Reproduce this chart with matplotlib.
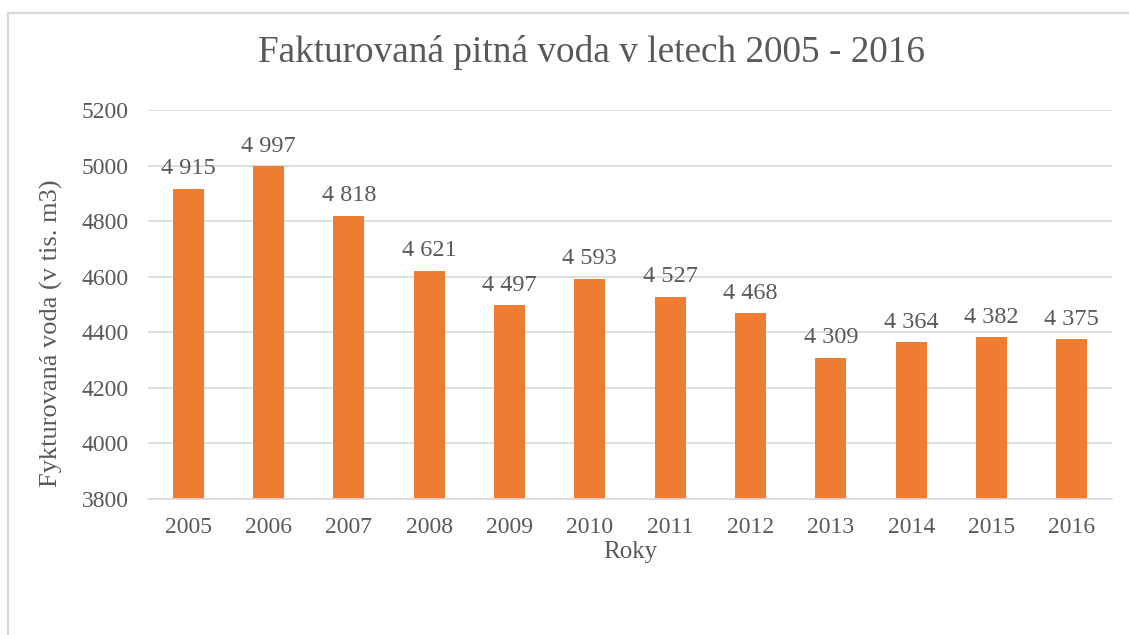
import matplotlib.pyplot as plt
from matplotlib.lines import Line2D

years = ["2005", "2006", "2007", "2008", "2009", "2010",
         "2011", "2012", "2013", "2014", "2015", "2016"]
values = [4915, 4997, 4818, 4621, 4497, 4593, 4527, 4468, 4309, 4364, 4382, 4375]
yticks = [3800, 4000, 4200, 4400, 4600, 4800, 5000, 5200]

TEXT = "#595959"
BAR = "#ED7D31"
GRID = "#D9D9D9"

plt.rcParams["font.family"] = ["Liberation Serif", "DejaVu Serif"]

W, H = 1129, 635
fig = plt.figure(figsize=(W / 100, H / 100), dpi=100)
ax = fig.add_axes([148 / W, 1 - 499 / H, (1112 - 148) / W, (499 - 110) / H])

x = list(range(len(years)))
ax.bar(x, values, width=0.39, color=BAR, zorder=2)
ax.set_xlim(-0.5, len(years) - 0.5)
ax.set_ylim(3800, 5200)
ax.set_yticks(yticks)
ax.set_yticklabels([str(t) for t in yticks])
ax.set_xticks(x)
ax.set_xticklabels(years)
ax.tick_params(axis="both", length=0, colors=TEXT, labelsize=17)
ax.tick_params(axis="x", pad=13)
ax.tick_params(axis="y", pad=14)
ax.grid(axis="y", color=GRID, linewidth=1.2, zorder=0)
for side in ["top", "right", "left"]:
    ax.spines[side].set_visible(False)
ax.spines["bottom"].set_color(GRID)
ax.spines["bottom"].set_linewidth(1.2)

for xi, v in zip(x, values):
    label = f"{v:,}".replace(",", " ")
    ax.annotate(label, (xi, v), xytext=(0, 7), textcoords="offset points",
                ha="center", va="bottom", fontsize=17.5, color=TEXT)

fig.text(0.5 * (148 + 1112) / W, 1 - 552 / H, "Roky",
         ha="center", va="center", fontsize=18, color=TEXT)
fig.text(51 / W, 1 - 333 / H, "Fykturovaná voda (v tis. m3)",
         ha="center", va="center", rotation=90, fontsize=19, color=TEXT)
fig.text(0.5 * (258 + 925) / W, 1 - 53 / H, "Fakturovaná pitná voda v letech 2005 - 2016",
         ha="center", va="center", fontsize=26.8, color=TEXT)

# chart border (only top and left edges visible in the crop)
fig.add_artist(Line2D([7.5 / W, 7.5 / W], [0, 1 - 13 / H], transform=fig.transFigure,
                      color=GRID, linewidth=1.5))
fig.add_artist(Line2D([7.5 / W, 1], [1 - 13 / H, 1 - 13 / H], transform=fig.transFigure,
                      color=GRID, linewidth=1.5))

fig.savefig("out.png", dpi=100)
